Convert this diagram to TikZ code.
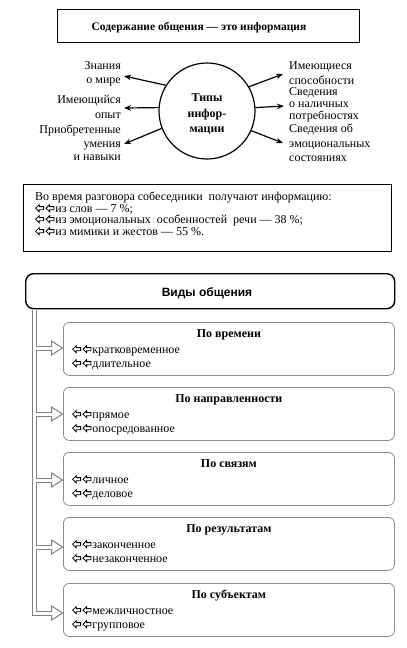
\documentclass[tikz,border=0pt]{standalone}
\usepackage{fontspec}
\setmainfont{Liberation Serif}
\newfontfamily\sansfnt{Liberation Sans}
\usetikzlibrary{arrows.meta,calc}
\newcommand\onearr{\tikz[baseline=-0.5pt,x=1pt,y=1pt]\draw[black,line width=0.8pt,line join=miter] (0,3.3)--(3.6,6.8)--(3.6,4.9)--(8,4.9)--(8,1.7)--(3.6,1.7)--(3.6,-0.2)--cycle;}
\newcommand\hmk{\onearr\hspace{1.6pt}\onearr\hspace{1pt}}
\begin{document}
\begin{tikzpicture}[x=1pt,y=-1pt,
  txt/.style={inner sep=0pt,font=\fontsize{12}{12}\selectfont},
  btxt/.style={inner sep=0pt,font=\fontsize{12}{12}\selectfont\bfseries},
  blackbox/.style={draw=black,line width=0.9pt,inner sep=0pt,anchor=north west},
  subbox/.style={draw=black!45,line width=0.8pt,rounded corners=6pt,inner sep=0pt,anchor=north west,minimum width=331pt,minimum height=53pt},
  infarrow/.style={line width=1.2pt,-{Stealth[length=7pt,width=5.5pt]}},
  gout/.style={draw=black!50,line width=5pt},
  gin/.style={draw=white,line width=3pt},
  ghead/.style={draw=black!50,line width=1pt,fill=white,line join=miter}
]
\useasboundingbox (0,0) rectangle (407,648);

% ---------- top part ----------
\node[blackbox,minimum width=302pt,minimum height=33pt] (topbox) at (57,9) {};
\node[inner sep=0pt,font=\fontsize{11.5}{12}\selectfont\bfseries,anchor=base] (toptext) at (199,30) {Содержание общения — это информация};

\node[draw=black,line width=1.2pt,circle,minimum size=96pt,inner sep=0pt] (circ) at (207,111) {};
\node[btxt,anchor=base] (c1) at (207,101) {Типы};
\node[btxt,anchor=base] (c2) at (207,117) {инфор-};
\node[btxt,anchor=base] (c3) at (207,132) {мации};

% left labels
\node[txt,anchor=base east] (l1a) at (121,69) {Знания};
\node[txt,anchor=base east] (l1b) at (121,83) {о мире};
\node[txt,anchor=base east] (l2a) at (121,103) {Имеющийся};
\node[txt,anchor=base east] (l2b) at (121,118) {опыт};
\node[txt,anchor=base east] (l3a) at (121,133) {Приобретенные};
\node[txt,anchor=base east] (l3b) at (121,147) {умения};
\node[txt,anchor=base east] (l3c) at (121,160) {и навыки};
% right labels
\node[txt,anchor=base west] (r1a) at (289,69) {Имеющиеся};
\node[txt,anchor=base west] (r1b) at (289,84) {способности};
\node[txt,anchor=base west] (r2a) at (289,95) {Сведения};
\node[txt,anchor=base west] (r2b) at (289,107) {о наличных};
\node[txt,anchor=base west] (r2c) at (289,119) {потребностях};
\node[txt,anchor=base west] (r3a) at (289,132) {Сведения об};
\node[txt,anchor=base west] (r3b) at (289,147) {эмоциональных};
\node[txt,anchor=base west] (r3c) at (289,161) {состояниях};

\coordinate (le1) at (124,76);
\coordinate (le2) at (124,108);
\coordinate (le3) at (124,144);
\coordinate (re1) at (283,74);
\coordinate (re2) at (284,106);
\coordinate (re3) at (283,143);
\draw[infarrow] (circ.148) -- (le1);
\draw[infarrow] (circ.176) -- (le2);
\draw[infarrow] (circ.201) -- (le3);
\draw[infarrow] (circ.30) -- (re1);
\draw[infarrow] (circ.4) -- (re2);
\draw[infarrow] (circ.-24) -- (re3);

% ---------- second box ----------
\node[blackbox,minimum width=368pt,minimum height=67pt] (infobox) at (23,184) {};
\node[txt,anchor=base west] (i0) at (35,200) {Во время разговора собеседники \ получают информацию:};
\node[txt,anchor=base west] (i1) at (35,212) {\hmk из слов — 7 \%;};
\node[txt,anchor=base west] (i2) at (35,223) {\hmk из эмоциональных \ особенностей \ речи — 38 \%;};
\node[txt,anchor=base west] (i3) at (35,235) {\hmk из мимики и жестов — 55 \%.};

% ---------- types ----------
\node[draw=black,line width=1.4pt,rounded corners=8pt,inner sep=0pt,anchor=north west,minimum width=369pt,minimum height=35pt] (vid) at (25,273) {};
\node[inner sep=0pt,anchor=base,font=\sansfnt\fontsize{12}{12}\selectfont\bfseries] (vidt) at (207,296) {Виды общения};

\node[subbox] (b1) at (63,322) {};
\node[subbox] (b2) at (63,387) {};
\node[subbox] (b3) at (63,452) {};
\node[subbox] (b4) at (63,517) {};
\node[subbox] (b5) at (63,583) {};

\node[btxt,anchor=base] (t1) at ($(b1.north)+(0,15)$) {По времени};
\node[txt,anchor=base west] (p1a) at ($(b1.north west)+(9,31)$) {\hmk кратковременное};
\node[txt,anchor=base west] (p1b) at ($(b1.north west)+(9,45)$) {\hmk длительное};

\node[btxt,anchor=base] (t2) at ($(b2.north)+(0,15)$) {По направленности};
\node[txt,anchor=base west] (p2a) at ($(b2.north west)+(9,31)$) {\hmk прямое};
\node[txt,anchor=base west] (p2b) at ($(b2.north west)+(9,45)$) {\hmk опосредованное};

\node[btxt,anchor=base] (t3) at ($(b3.north)+(0,15)$) {По связям};
\node[txt,anchor=base west] (p3a) at ($(b3.north west)+(9,31)$) {\hmk личное};
\node[txt,anchor=base west] (p3b) at ($(b3.north west)+(9,45)$) {\hmk деловое};

\node[btxt,anchor=base] (t4) at ($(b4.north)+(0,15)$) {По результатам};
\node[txt,anchor=base west] (p4a) at ($(b4.north west)+(9,31)$) {\hmk законченное};
\node[txt,anchor=base west] (p4b) at ($(b4.north west)+(9,45)$) {\hmk незаконченное};

\node[btxt,anchor=base] (t5) at ($(b5.north)+(0,15)$) {По субъектам};
\node[txt,anchor=base west] (p5a) at ($(b5.north west)+(9,31)$) {\hmk межличностное};
\node[txt,anchor=base west] (p5b) at ($(b5.north west)+(9,45)$) {\hmk групповое};

% connector: hollow double line with open arrow heads
\coordinate (vtop) at ($(vid.south west)+(9,0.7)$);
\coordinate (j1) at (vtop |- {$(b1.north west)+(0,26)$});
\coordinate (j2) at (vtop |- {$(b2.north west)+(0,27)$});
\coordinate (j3) at (vtop |- {$(b3.north west)+(0,28)$});
\coordinate (j4) at (vtop |- {$(b4.north west)+(0,30)$});
\coordinate (j5) at (vtop |- {$(b5.north west)+(0,30)$});
\foreach \i/\d in {1/26,2/27,3/28,4/30,5/30}{
  \coordinate (tip\i) at ($(b\i.north west)+(-0.5,\d)$);
  \coordinate (hb\i) at ($(tip\i)+(-11,0)$);
}
\draw[gout] (vtop) -- (j5) -- (hb5);
\foreach \i in {1,...,4}{ \draw[gout] (j\i) -- (hb\i); }
\foreach \i in {1,...,5}{
  \draw[ghead] ($(hb\i)+(0,-7)$) -- (tip\i) -- ($(hb\i)+(0,7)$) -- cycle;
}
\draw[gin] (vtop) -- (j5) -- ($(hb5)+(0.6,0)$);
\foreach \i in {1,...,4}{ \draw[gin] (j\i) -- ($(hb\i)+(0.6,0)$); }
\end{tikzpicture}
\end{document}
